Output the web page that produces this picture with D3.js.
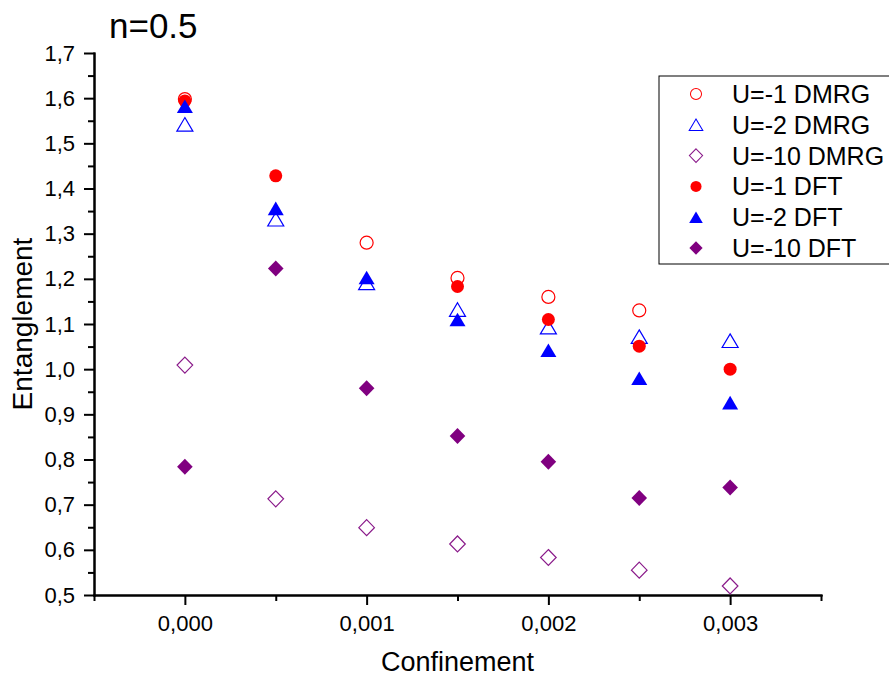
<!DOCTYPE html>
<html>
<head>
<meta charset="utf-8">
<script src="https://cdn.jsdelivr.net/npm/d3@7"></script>
<style>
  body { margin: 0; background: #fff; }
  text { font-family: "Liberation Sans", Arial, sans-serif; fill: #000; }
</style>
</head>
<body>
<div class="main"></div>
<script>
// data
const confinement = [0, 0.0005, 0.001, 0.0015, 0.002, 0.0025, 0.003];
const u1DMRG  = [1.598, null, 1.280, 1.202, 1.160, 1.130, null];
const u2DMRG  = [1.542, 1.332, 1.191, 1.132, 1.093, 1.072, 1.063];
const u10DMRG = [1.009, 0.713, 0.649, 0.613, 0.583, 0.555, 0.520];
const u1DFT   = [1.594, 1.428, null, 1.183, 1.110, 1.051, 1.000];
const u2DFT   = [1.582, 1.356, 1.203, 1.110, 1.042, 0.980, 0.926];
const u10DFT  = [0.784, 1.223, 0.958, 0.852, 0.795, 0.715, 0.738];
const seriesNames = ["U=-1 DMRG", "U=-2 DMRG", "U=-10 DMRG", "U=-1 DFT", "U=-2 DFT", "U=-10 DFT"];
const xTickValues = [0, 0.001, 0.002, 0.003];
const yTickValues = [0.5, 0.6, 0.7, 0.8, 0.9, 1.0, 1.1, 1.2, 1.3, 1.4, 1.5, 1.6, 1.7];

const w = 889, h = 677;
const padLeft = 94, padRight = 821, padTop = 53, padBottom = 595;

const xScale = d3.scaleLinear().domain([-0.0005, 0.0035]).range([padLeft, padRight]);
const yScale = d3.scaleLinear().domain([0.5, 1.7]).range([padBottom, padTop]);

const svg = d3.select(".main").append("svg")
  .attr("width", w).attr("height", h);

// marker shapes
const shapes = {
  circle: "M6.5,0A6.5,6.5 0 1,1 -6.5,0A6.5,6.5 0 1,1 6.5,0Z",
  triangle: "M0,-6.8L8,6.8L-8,6.8Z",
  diamond: "M0,-8L7.8,0L0,8L-7.8,0Z"
};
const series = [
  { name: seriesNames[0], values: u1DMRG,  shape: "circle",   color: "#ff0000", fill: false },
  { name: seriesNames[1], values: u2DMRG,  shape: "triangle", color: "#0000ff", fill: false },
  { name: seriesNames[2], values: u10DMRG, shape: "diamond",  color: "#8a1a8a", fill: false },
  { name: seriesNames[3], values: u1DFT,   shape: "circle",   color: "#ff0000", fill: true },
  { name: seriesNames[4], values: u2DFT,   shape: "triangle", color: "#0000ff", fill: true },
  { name: seriesNames[5], values: u10DFT,  shape: "diamond",  color: "#800080", fill: true }
];

function styleMarker(sel, s) {
  sel.attr("d", shapes[s.shape])
    .attr("fill", s.fill ? s.color : "none")
    .attr("stroke", s.fill ? "none" : s.color)
    .attr("stroke-width", 1.2);
}

// axes
const xAxis = d3.axisBottom(xScale).tickValues(xTickValues)
  .tickFormat(d => d3.format(".3f")(d).replace(".", ",")).tickSize(10).tickSizeOuter(0);
const xMinor = d3.axisBottom(xScale).tickValues(d3.range(-0.0005, 0.0036, 0.001))
  .tickFormat("").tickSize(6).tickSizeOuter(0);
const yAxis = d3.axisLeft(yScale).tickValues(yTickValues)
  .tickFormat(d => d3.format(".1f")(d).replace(".", ",")).tickSize(10).tickSizeOuter(0);
const yMinor = d3.axisLeft(yScale).tickValues(d3.range(0.55, 1.7, 0.1))
  .tickFormat("").tickSize(6).tickSizeOuter(0);

[[xMinor, "x"], [xAxis, "x"], [yMinor, "y"], [yAxis, "y"]].forEach(([ax, k]) => {
  const g = svg.append("g")
    .attr("transform", k === "x" ? "translate(0," + padBottom + ")" : "translate(" + padLeft + ",0)")
    .call(ax);
  g.selectAll("path, line").attr("stroke", "#000").attr("stroke-width", 2);
  g.selectAll("text").attr("font-size", 22).attr("font-family", "Liberation Sans, Arial, sans-serif").attr("fill", "#000");
  if (k === "x") g.selectAll("text").attr("dy", "0.71em").attr("y", 20);
  else g.selectAll("text").attr("x", -19);
});
svg.selectAll("path.domain").attr("stroke-linecap", "square");

// points
series.forEach(s => {
  svg.append("g").selectAll("path")
    .data(confinement.map((c, i) => ({ x: c, y: s.values[i] })).filter(d => d.y !== null))
    .enter().append("path")
    .attr("transform", d => "translate(" + xScale(d.x) + "," + yScale(d.y) + ")")
    .call(styleMarker, s);
});

// titles
svg.append("text").attr("x", 109).attr("y", 38).attr("font-size", 35).text("n=0.5");
svg.append("text").attr("x", (padLeft + padRight) / 2).attr("y", 671)
  .attr("text-anchor", "middle").attr("font-size", 27).text("Confinement");
svg.append("text").attr("transform", "translate(32," + (padTop + padBottom) / 2 + ") rotate(-90)")
  .attr("text-anchor", "middle").attr("font-size", 28).text("Entanglement");

// legend
const legend = svg.append("g");
legend.append("rect").attr("x", 659).attr("y", 76).attr("width", 240).attr("height", 188)
  .attr("fill", "#fff").attr("stroke", "#000").attr("stroke-width", 1);
series.forEach((s, i) => {
  const cy = 94 + i * 30.8;
  legend.append("path").attr("transform", "translate(696," + cy + ") scale(0.85)").call(styleMarker, s);
  legend.append("text").attr("x", 732).attr("y", cy).attr("dy", "0.36em")
    .attr("font-size", 25).text(s.name);
});
</script>
</body>
</html>
